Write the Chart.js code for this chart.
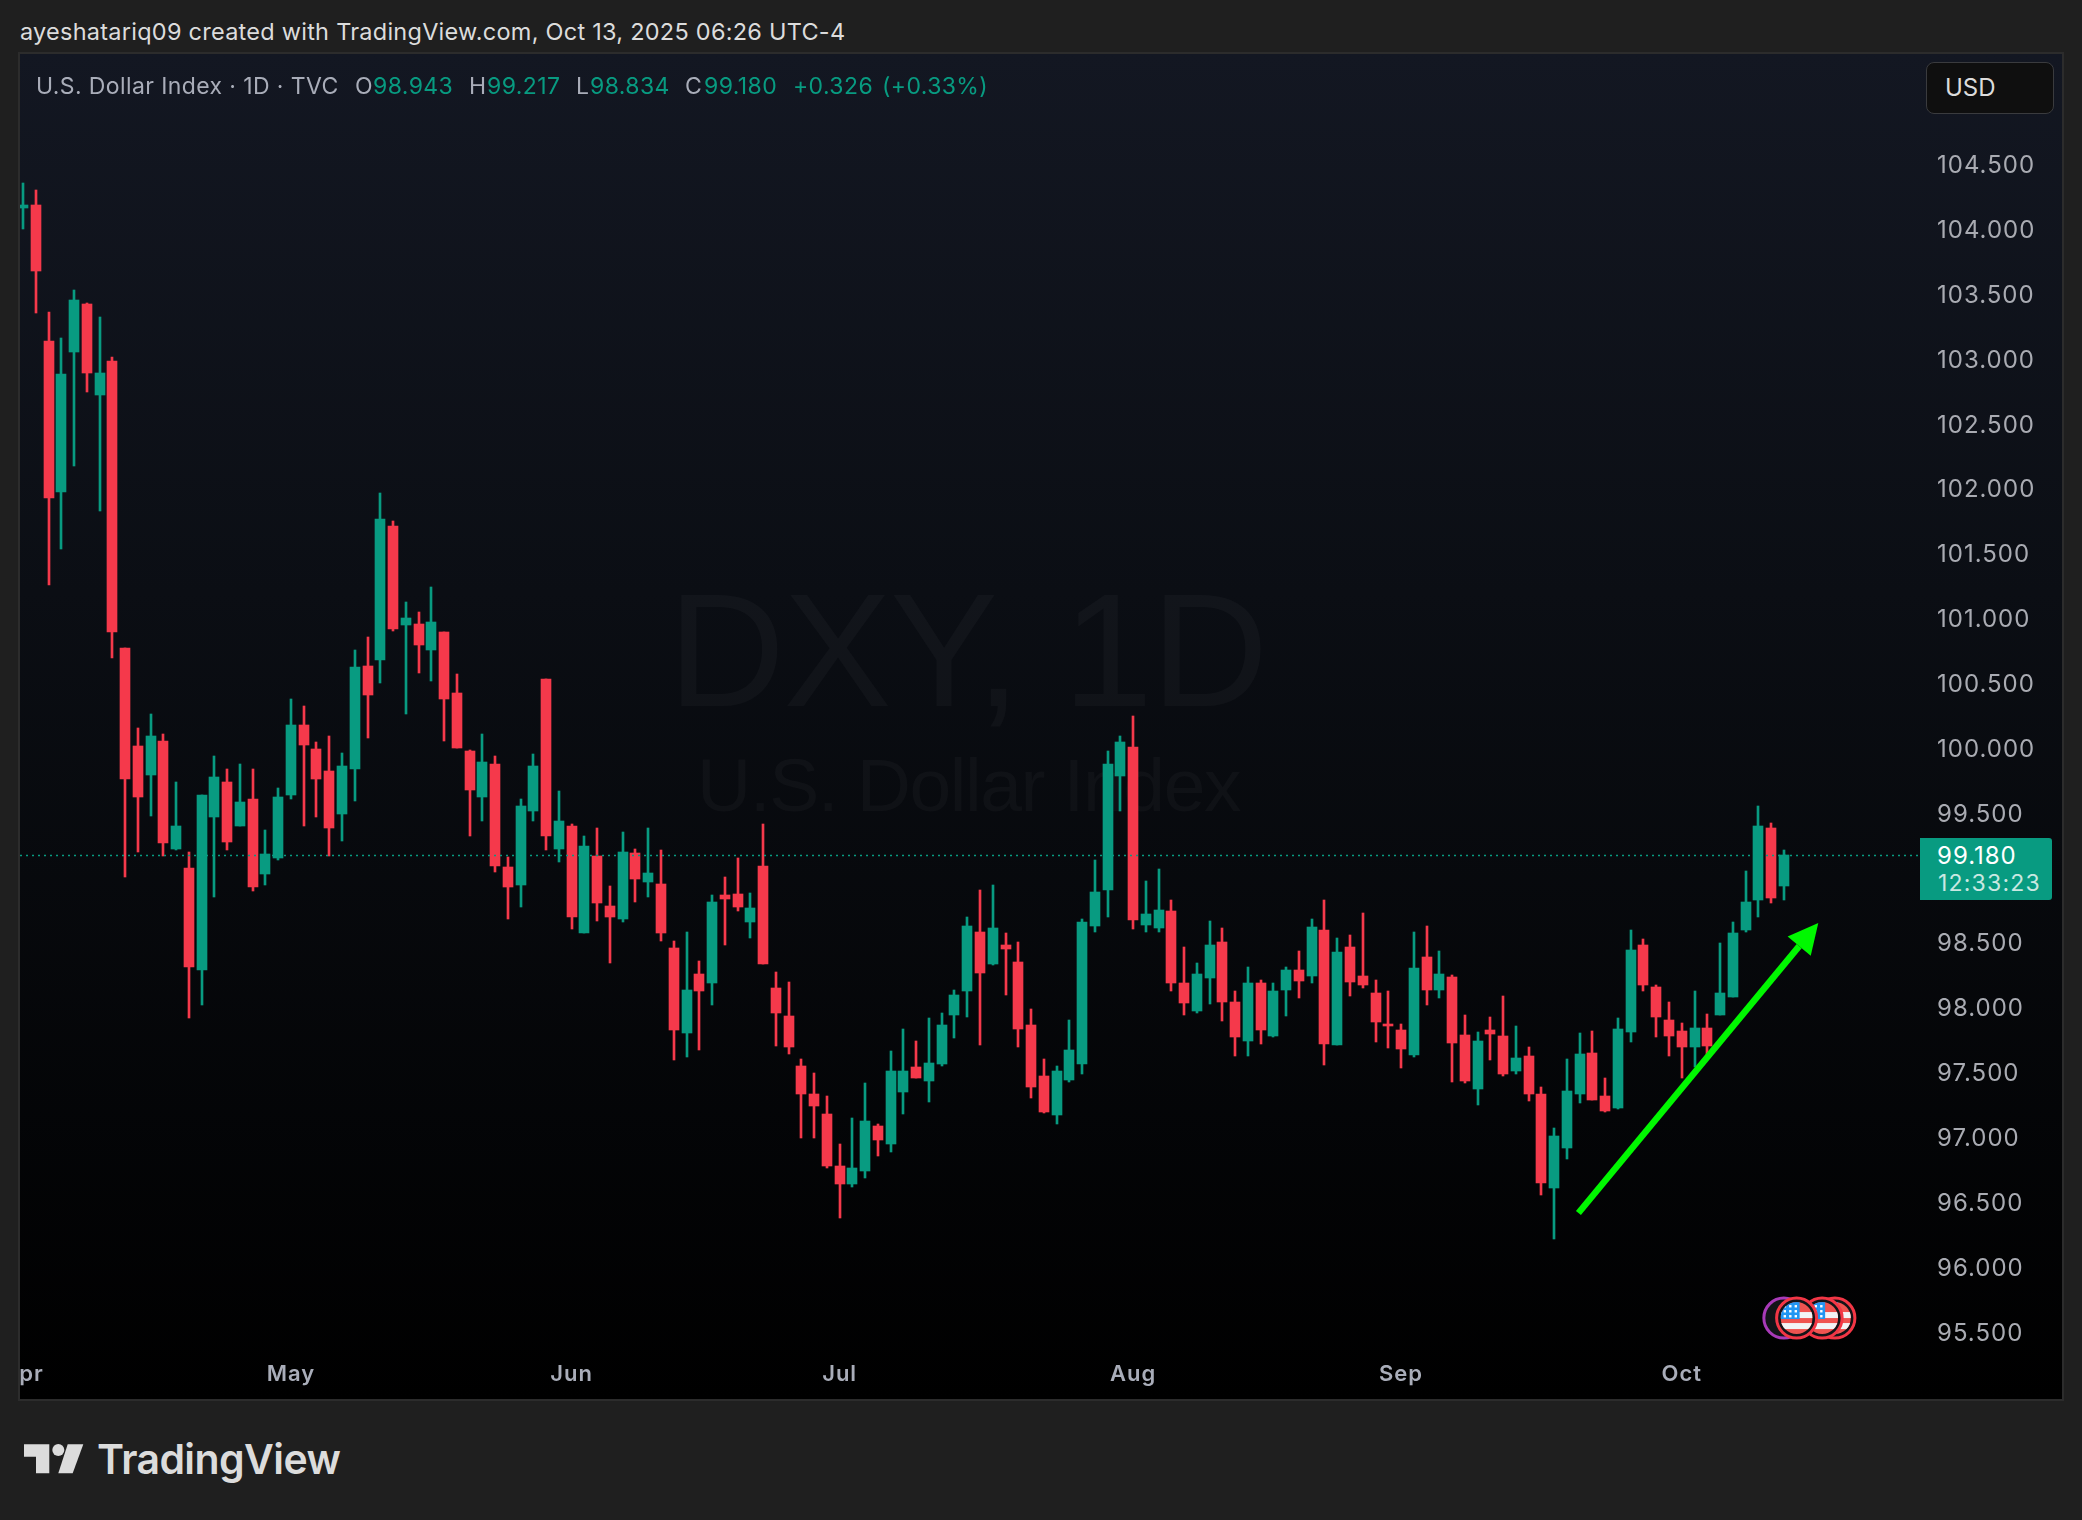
<!DOCTYPE html>
<html>
<head>
<meta charset="utf-8">
<title>U.S. Dollar Index</title>
<script src="https://cdn.jsdelivr.net/npm/chart.js@4"></script>
<style>
html,body{margin:0;padding:0;width:2082px;height:1520px;background:#1f1f1f;overflow:hidden;font-family:Inter,Roboto,sans-serif}
.t{position:absolute;white-space:nowrap;line-height:1}
#pane{position:absolute;left:20px;top:54px;width:2042px;height:1345px;background:linear-gradient(#131722 0%,#0b0e14 40%,#000 100%);overflow:hidden;outline:2px solid #2c2c2c}
#pane canvas{position:absolute;left:0;top:0}
.wm{position:absolute;font-family:"Liberation Sans",Arial,sans-serif;color:rgba(255,255,255,.032);white-space:nowrap;line-height:1}
.leg{font-size:23px;color:#a9adb9;top:75px;letter-spacing:.4px}
.up{color:#089b81}
</style>
</head>
<body>
<div class="t" style="left:20px;top:20px;font-size:23.5px;letter-spacing:.25px;color:#dcdcdc">ayeshatariq09 created with TradingView.com, Oct 13, 2025 06:26 UTC-4</div>
<div id="pane">
  <div class="wm" style="left:648px;top:515px;font-size:162px;letter-spacing:-1.5px">DXY, 1D</div>
  <div class="wm" style="left:677px;top:694px;font-size:75px;letter-spacing:-1.4px">U.S. Dollar Index</div>
  <canvas id="c" width="2042" height="1345"></canvas>
</div>
<div class="t leg" style="left:36px">U.S. Dollar Index · 1D · TVC</div>
<div class="t leg" style="left:355px">O</div><div class="t leg up" style="left:373px">98.943</div>
<div class="t leg" style="left:469px">H</div><div class="t leg up" style="left:487px">99.217</div>
<div class="t leg" style="left:576px">L</div><div class="t leg up" style="left:590px">98.834</div>
<div class="t leg" style="left:685px">C</div><div class="t leg up" style="left:704px">99.180</div>
<div class="t leg up" style="left:793px">+0.326</div><div class="t leg up" style="left:882px">(+0.33%)</div>
<div style="position:absolute;left:1926px;top:62px;width:126px;height:50px;background:#0f0f0f;border:1px solid #3a3b3e;border-radius:8px"></div>
<div class="t" style="left:1945px;top:76px;font-size:24px;color:#dcdcdc">USD</div>
<div style="position:absolute;left:1920px;top:838px;width:132px;height:62px;background:#089b81;border-radius:0 3px 3px 0"></div>
<div class="t" style="left:1937px;top:844px;font-size:24px;letter-spacing:1px;color:#fff">99.180</div>
<div class="t" style="left:1938px;top:872px;font-size:23px;letter-spacing:1.2px;color:#c9e8e1">12:33:23</div>
<svg style="position:absolute;left:0;top:1430px" width="100" height="60" viewBox="0 1430 100 60">
  <path fill="#dcdcdc" d="M24 1444.3H49.3V1473.3H36V1456.7H24Z"/>
  <circle fill="#dcdcdc" cx="58.3" cy="1450" r="6"/>
  <path fill="#dcdcdc" d="M67.7 1444.3H83.3L72.7 1473.3H58.3Z"/>
</svg>
<div class="t" style="left:97px;top:1439px;font-size:41px;font-weight:600;letter-spacing:-.6px;color:#dcdcdc">TradingView</div>
<script>
const opens=[104.17,104.19,103.14,101.98,103.06,103.43,102.73,102.99,100.78,100.02,99.80,100.06,99.23,99.08,98.29,99.47,99.74,99.40,99.61,99.03,99.16,99.64,100.18,100.00,99.83,99.50,99.84,100.64,100.68,101.72,100.95,100.96,100.76,100.90,100.43,99.98,99.63,99.88,99.09,98.95,99.52,100.54,99.23,99.40,98.58,99.17,98.79,98.69,99.195,98.97,98.96,98.46,97.81,98.26,98.19,98.87,98.88,98.66,99.095,98.155,97.94,97.55,97.34,97.18,96.78,96.64,96.74,97.09,96.95,97.35,97.545,97.44,97.57,97.95,98.13,98.59,98.34,98.485,98.355,97.87,97.475,97.175,97.445,97.57,98.63,98.91,99.79,100.01,98.64,98.62,98.75,98.19,97.98,98.23,98.51,98.05,97.745,98.19,97.785,98.14,98.29,98.25,98.60,97.715,98.47,98.25,98.12,97.87,97.83,97.64,98.39,98.14,98.24,97.79,97.375,97.83,97.785,97.515,97.63,97.34,96.61,96.92,97.34,97.65,97.32,97.23,97.815,98.49,98.16,97.91,97.82,97.70,97.85,97.95,98.085,98.60,98.83,99.39,98.943];
const highs=[104.36,104.31,103.37,103.17,103.54,103.44,103.33,103.02,100.78,100.16,100.27,100.11,99.74,99.20,99.64,99.94,99.84,99.88,99.84,99.37,99.70,100.38,100.33,100.05,100.10,99.97,100.76,100.86,101.97,101.755,101.13,101.05,101.25,100.90,100.575,99.99,100.11,99.94,99.165,99.61,99.96,100.54,99.67,99.42,99.33,99.39,98.94,99.36,99.23,99.39,99.22,98.52,98.59,98.36,98.87,99.01,99.16,98.89,99.42,98.28,98.20,97.61,97.50,97.32,96.95,97.15,97.42,97.11,97.67,97.84,97.745,97.92,97.96,98.14,98.70,98.91,98.95,98.58,98.51,97.99,97.61,97.55,97.91,98.69,99.14,99.98,100.10,100.25,98.98,99.07,98.83,98.47,98.35,98.67,98.62,98.13,98.32,98.22,98.19,98.32,98.44,98.69,98.83,98.54,98.56,98.73,98.22,98.13,97.88,98.59,98.63,98.44,98.255,97.95,97.815,97.93,98.09,97.86,97.70,97.39,97.075,97.61,97.81,97.82,97.46,97.92,98.60,98.53,98.18,98.05,97.885,98.13,97.955,98.50,98.66,99.06,99.56,99.43,99.217];
const lows=[104.01,103.36,101.26,101.54,102.18,102.75,101.83,100.70,99.01,99.20,99.48,99.17,99.22,97.92,98.02,98.86,99.22,99.40,98.90,98.95,99.14,99.61,99.40,99.47,99.17,99.29,99.60,100.08,100.51,100.91,100.27,100.58,100.52,100.06,100.005,99.33,99.44,99.05,98.69,98.78,99.44,99.22,99.13,98.61,98.58,98.67,98.35,98.66,98.82,98.86,98.52,97.60,97.62,97.68,98.02,98.49,98.75,98.54,98.34,97.71,97.645,97.00,97.00,96.77,96.38,96.62,96.69,96.86,96.89,97.18,97.46,97.275,97.55,97.77,97.93,97.715,98.33,98.10,97.70,97.31,97.19,97.11,97.43,97.49,98.59,98.70,99.52,98.61,98.59,98.59,98.13,97.95,97.96,98.03,97.90,97.63,97.63,97.72,97.78,97.94,98.08,98.19,97.56,97.715,98.09,98.155,97.74,97.69,97.54,97.62,98.02,98.08,97.43,97.42,97.25,97.60,97.475,97.49,97.28,96.56,96.22,96.84,97.27,97.29,97.20,97.22,97.74,98.13,97.78,97.63,97.46,97.545,97.615,97.95,98.085,98.59,98.70,98.81,98.834];
const closes=[104.19,103.68,101.93,102.89,103.46,102.90,102.90,100.90,99.77,99.63,100.10,99.27,99.40,98.32,99.64,99.78,99.28,99.59,98.93,99.19,99.63,100.18,100.03,99.77,99.39,99.87,100.63,100.41,101.77,100.92,101.01,100.80,100.98,100.38,100.005,99.68,99.90,99.095,98.93,99.56,99.87,99.33,99.44,98.70,99.25,98.81,98.70,99.20,98.995,99.04,98.58,97.83,98.14,98.13,98.82,98.84,98.78,98.77,98.34,97.96,97.70,97.34,97.245,96.78,96.64,96.77,97.13,96.98,97.515,97.515,97.46,97.58,97.87,98.10,98.63,98.27,98.62,98.455,97.84,97.39,97.20,97.515,97.68,98.66,98.895,99.88,100.05,98.68,98.725,98.755,98.19,98.04,98.26,98.49,98.05,97.78,98.19,97.83,98.13,98.29,98.21,98.625,97.72,98.43,98.20,98.18,97.89,97.86,97.685,98.31,98.14,98.26,97.73,97.44,97.745,97.80,97.49,97.615,97.34,96.65,97.01,97.36,97.645,97.29,97.205,97.84,98.45,98.18,97.93,97.785,97.70,97.85,97.71,98.12,98.58,98.82,99.40,98.85,99.18];

const priceTicks=[95.5,96,96.5,97,97.5,98,98.5,99,99.5,100,100.5,101,101.5,102,102.5,103,103.5,104,104.5];
const monthLabels=["Apr","May","Jun","Jul","Aug","Sep","Oct"];
const monthIndex=[0,21,43,64,87,108,130];
const lastPrice=99.18;
const arrowFrom=[121.9,96.42];
const arrowTo=[140.7,98.656];
const eventIndex=[142,141,138,139];
const eventKind=["usd","usd","other","usd"];
const eventPrice=95.61;

const UP="#089b81",DOWN="#f5394b";
const candleColor=opens.map((o,i)=>closes[i]>=o?UP:DOWN);
const wicks=highs.map((h,i)=>({x:i,y:[lows[i],h]}));
const bodies=opens.map((o,i)=>({x:i,y:[o,closes[i]]}));

const crisp={id:"crisp",beforeDraw(chart){chart.ctx.letterSpacing="1px";},beforeDatasetsDraw(chart){
  chart.getSortedVisibleDatasetMetas().forEach(m=>{
    m.data.forEach(el=>{el.x=Math.round(el.x);el.y=Math.round(el.y);el.base=Math.round(el.base);});
  });
}};
function flag(ctx,x,y){
  ctx.save();
  ctx.beginPath();ctx.arc(x,y,20,0,7);ctx.fillStyle="#131418";ctx.fill();
  ctx.lineWidth=3;ctx.strokeStyle="#f23645";ctx.beginPath();ctx.arc(x,y,20,0,7);ctx.stroke();
  ctx.beginPath();ctx.arc(x,y,16,0,7);ctx.clip();
  ctx.fillStyle="#ef5350";ctx.fillRect(x-16,y-16,32,32);
  ctx.fillStyle="#f2f3f5";
  ctx.fillRect(x-16,y-6,32,6);ctx.fillRect(x-16,y+5,32,6);
  ctx.fillStyle="#2196f3";ctx.fillRect(x-16,y-16,19,17);
  ctx.fillStyle="#fff";
  for(let r=0;r<3;r++)for(let c=0;c<3;c++){ctx.fillRect(x-13+c*5.5,y-13+r*5,2.4,2.4);}
  ctx.restore();
}
const overlay={id:"overlay",afterDatasetsDraw(chart){
  const {ctx,scales:{x,y},chartArea:a}=chart;
  const py=Math.round(y.getPixelForValue(lastPrice))+.5;
  ctx.save();
  ctx.strokeStyle=UP;ctx.lineWidth=1.5;ctx.setLineDash([2,4]);
  ctx.beginPath();ctx.moveTo(a.left,py);ctx.lineTo(a.right,py);ctx.stroke();
  ctx.setLineDash([]);
  const x0=x.getPixelForValue(arrowFrom[0]),y0=y.getPixelForValue(arrowFrom[1]);
  const x1=x.getPixelForValue(arrowTo[0]),y1=y.getPixelForValue(arrowTo[1]);
  const ang=Math.atan2(y1-y0,x1-x0),ux=Math.cos(ang),uy=Math.sin(ang);
  const bx=x1-30*ux,by=y1-30*uy;
  ctx.strokeStyle="#00f800";ctx.lineWidth=6.5;
  ctx.beginPath();ctx.moveTo(x0,y0);ctx.lineTo(bx,by);ctx.stroke();
  ctx.fillStyle="#00f800";ctx.beginPath();ctx.moveTo(x1,y1);
  ctx.lineTo(bx-uy*15,by+ux*15);ctx.lineTo(bx+uy*15,by-ux*15);ctx.closePath();ctx.fill();
  eventIndex.forEach((idx,k)=>{
    const ex=x.getPixelForValue(idx),ey=y.getPixelForValue(eventPrice);
    if(eventKind[k]==="usd"){flag(ctx,ex,ey);}
    else{ctx.beginPath();ctx.arc(ex,ey,20,0,7);ctx.fillStyle="#131418";ctx.fill();ctx.lineWidth=3;ctx.strokeStyle="#a83ab8";ctx.stroke();}
  });
  ctx.restore();
}};

new Chart(document.getElementById("c"),{
  type:"bar",
  data:{datasets:[
    {label:"Wick",data:wicks,backgroundColor:candleColor,barThickness:2,grouped:false,order:2,borderWidth:0},
    {label:"U.S. Dollar Index",data:bodies,backgroundColor:candleColor,barThickness:10,grouped:false,order:1,borderWidth:0,minBarLength:2}
  ]},
  plugins:[crisp,overlay],
  options:{
    responsive:false,animation:false,
    layout:{padding:0},
    plugins:{legend:{display:false},tooltip:{enabled:false},title:{display:false}},
    scales:{
      x:{type:"linear",position:"bottom",offset:false,min:-0.235,max:148.67,
        border:{display:false},grid:{display:false,drawTicks:false,offset:false},
        afterBuildTicks(s){s.ticks=monthIndex.map(v=>({value:v}));},
        afterFit(s){s.height=48;s.paddingLeft=0;s.paddingRight=0;},
        ticks:{autoSkip:false,maxRotation:0,padding:10,color:"#a9adb9",font:{family:"Inter",size:22,weight:"600"},
          callback(v,i){return monthLabels[i];}}
      },
      y:{type:"linear",position:"right",min:95.356,max:105.356,
        border:{display:false},grid:{display:false,drawTicks:false},
        afterBuildTicks(s){s.ticks=priceTicks.map(v=>({value:v}));},
        afterFit(s){
          s.width=142;s.paddingTop=0;s.paddingBottom=0;
          if(!s._shifted){
            const compute=s._computeLabelItems.bind(s);
            s._computeLabelItems=a=>{const items=compute(a);items.forEach(i=>{i.options.translation[1]+=1;});return items;};
            s._shifted=true;
          }
        },
        ticks:{autoSkip:false,padding:17,color:"#a9abb2",font:{family:"Inter",size:24,weight:"400"},
          callback(v){return Number(v).toFixed(3);}}
      }
    }
  }
});
</script>
</body>
</html>
